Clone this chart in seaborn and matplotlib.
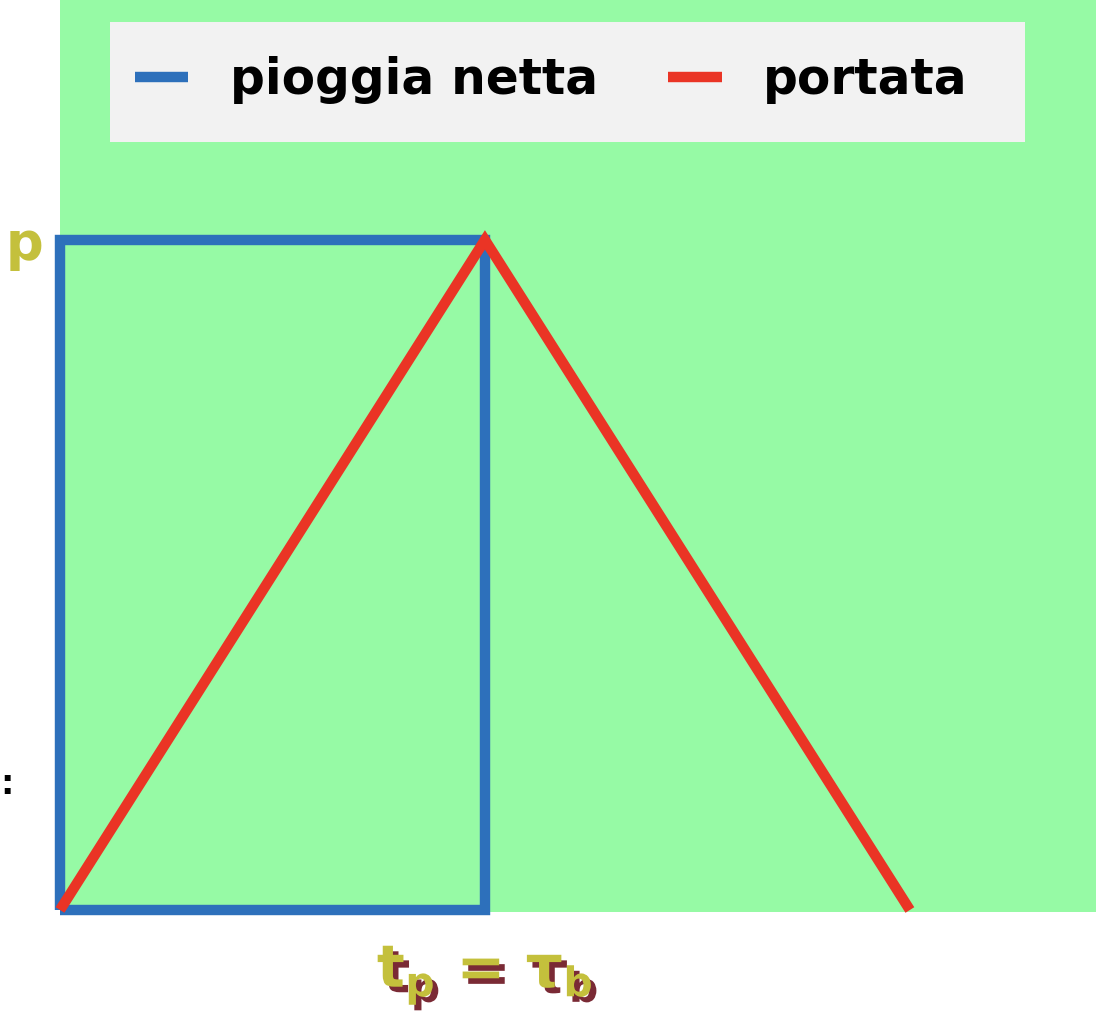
import matplotlib
matplotlib.use("Agg")
import matplotlib.pyplot as plt
import matplotlib.patheffects as pe
from matplotlib.patches import Rectangle
import pandas as pd
import seaborn as sns

# rectangle of net rainfall (time in units of t_p, intensity normalised)
rain_time = [0, 0, 1, 1, 0]
rain_value = [0, 1, 1, 0, 0]

# triangular hydrograph
flow_time = [0, 1, 2]
flow_value = [0, 1, 0]

series_names = ["pioggia netta", "portata"]
series_colors = ["#2d70bb", "#ea3425"]

ytick_pos = [1]
ytick_labels = ["p"]
xtick_pos = [1]
xtick_labels = [r"$\mathbf{t_p}$ = $\mathbf{\tau_b}$"]

sns.set_theme(style="white")
plt.rcParams["font.family"] = ["DejaVu Sans"]
plt.rcParams["mathtext.fontset"] = "dejavusans"

rain = pd.DataFrame({"t": rain_time, "v": rain_value, "serie": series_names[0]})
flow = pd.DataFrame({"t": flow_time, "v": flow_value, "serie": series_names[1]})

fig = plt.figure(figsize=(10.96, 10.28), dpi=100)
ax = fig.add_axes([60 / 1096, 116 / 1028, 1 - 60 / 1096, 1 - 116 / 1028])
ax.set_facecolor("#96faa5")

sns.lineplot(data=rain, x="t", y="v", sort=False, estimator=None, ax=ax,
             color=series_colors[0], lw=7.5, label=series_names[0],
             solid_joinstyle="miter", solid_capstyle="butt", clip_on=False)
sns.lineplot(data=flow, x="t", y="v", sort=False, estimator=None, ax=ax,
             color=series_colors[1], lw=7.5, label=series_names[1],
             solid_joinstyle="miter", solid_capstyle="butt", clip_on=False)

ax.set_xlim(0, 2.438)
ax.set_ylim(-0.003, 1.358)
for s in ax.spines.values():
    s.set_visible(False)
ax.set_xlabel("")
ax.set_ylabel("")

olive = "#c4c03c"
shadow = [pe.SimplePatchShadow(offset=(4, -4), shadow_rgbFace="#7a2a35", alpha=1), pe.Normal()]

ax.set_yticks(ytick_pos)
ax.set_yticklabels(ytick_labels, color=olive, fontsize=38, fontweight="bold")
ax.set_xticks(xtick_pos)
ax.set_xticklabels(xtick_labels, color=olive, fontsize=42, fontweight="bold")
for lab in ax.get_xticklabels():
    lab.set_path_effects(shadow)
ax.tick_params(axis="x", length=0, pad=22)
ax.tick_params(axis="y", length=0, pad=12)

# stray label cut at the left border
fig.text(0.0, 1 - 785 / 1028, ":", fontsize=24, fontweight="bold", color="black",
         va="center", ha="left")

# legend background box
ax.add_patch(Rectangle(((110 - 60) / 1036, 1 - 142 / 912), 915 / 1036, 120 / 912,
                       transform=ax.transAxes, facecolor="#f2f2f2", edgecolor="none",
                       zorder=3))
leg = ax.legend(loc="center left", bbox_to_anchor=((135 - 60) / 1036, 1 - 80 / 912), ncol=2,
                frameon=False, prop={"weight": "bold", "size": 35},
                handlelength=1.1, handletextpad=0.85, columnspacing=1.45,
                borderpad=0, borderaxespad=0)
leg.set_zorder(4)
for t in leg.get_texts():
    t.set_color("black")
for h in leg.get_lines():
    h.set_linewidth(7.5)
    h.set_solid_capstyle("butt")

fig.savefig("out.png", dpi=100)
